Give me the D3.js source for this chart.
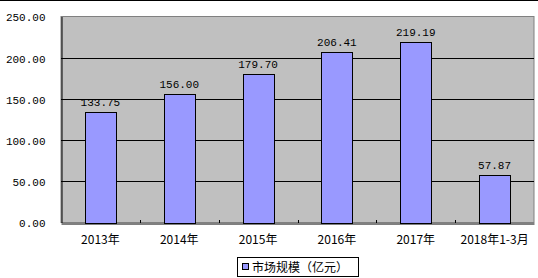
<!DOCTYPE html>
<html><head><meta charset="utf-8">
<script src="https://cdn.jsdelivr.net/npm/d3@7"></script>
<style>body{margin:0;background:#fff}svg{display:block}</style>
</head><body>
<script>
const categories = ["2013年","2014年","2015年","2016年","2017年","2018年1-3月"];
const values = [133.75,156.00,179.70,206.41,219.19,57.87];
const yTicks = [0,50,100,150,200,250];
const seriesName = "市场规模（亿元）";

const W=538,H=278;
const m={left:61,right:4,top:16.5,bottom:55.5};
const svg=d3.select("body").append("svg").attr("width",W).attr("height",H);
svg.append("rect").attr("width",W).attr("height",H).attr("fill","#fff");
svg.append("line").attr("x1",0).attr("x2",W).attr("y1",0.5).attr("y2",0.5).attr("stroke","#000");

const x=d3.scaleBand().domain(categories).range([m.left,W-m.right]).padding(0);
const y=d3.scaleLinear().domain([0,250]).range([H-m.bottom,m.top]);
const numFont="'Liberation Mono', monospace";
const cjkFont="'Noto Sans CJK SC', sans-serif";

// plot area
svg.append("rect").attr("x",m.left).attr("y",m.top).attr("width",W-m.right-m.left).attr("height",y(0)-m.top)
  .attr("fill","#C0C0C0").attr("stroke","#808080");

// gridlines
svg.append("g").selectAll("line").data(yTicks.filter(d=>d>0&&d<250)).join("line")
  .attr("x1",m.left).attr("x2",W-m.right).attr("y1",d=>Math.round(y(d))+0.5).attr("y2",d=>Math.round(y(d))+0.5)
  .attr("stroke","#000");

// y axis
const yAxis=d3.axisLeft(y).tickValues(yTicks).tickFormat(d3.format(".2f")).tickSize(0).tickPadding(16);
const gy=svg.append("g").attr("transform",`translate(${m.left+0.5},0)`).call(yAxis);
gy.select(".domain").attr("stroke","#000");
gy.selectAll("text").attr("font-family",numFont).attr("font-size","11px").attr("fill","#000").attr("dy","0.4em");

// bars
const bw=x.bandwidth()*0.395;
svg.append("g").selectAll("rect").data(values).join("rect")
  .attr("x",(d,i)=>Math.round(x(categories[i])+x.bandwidth()/2-bw/2)+0.5)
  .attr("y",d=>Math.round(y(d))+0.5)
  .attr("width",Math.round(bw))
  .attr("height",d=>Math.round(y(0))-Math.round(y(d)))
  .attr("fill","#9999FF").attr("stroke","#000");

// value labels
svg.append("g").selectAll("text").data(values).join("text")
  .attr("x",(d,i)=>x(categories[i])+x.bandwidth()/2)
  .attr("y",d=>y(d)-6)
  .attr("text-anchor","middle").attr("font-family",numFont).attr("font-size","11px").attr("fill","#000")
  .text(d=>d.toFixed(2));

// x axis
const xAxis=d3.axisBottom(x).tickSize(0).tickPadding(12);
const gx=svg.append("g").attr("transform",`translate(0,${Math.round(y(0))+0.5})`).call(xAxis);
gx.select(".domain").attr("stroke","#000");
gx.selectAll("text").attr("font-family",cjkFont).attr("font-size","12px").attr("fill","#000");
// category boundary ticks (pointing up)
svg.append("g").selectAll("line").data(categories.slice(1)).join("line")
  .attr("x1",d=>Math.round(x(d))+0.5).attr("x2",d=>Math.round(x(d))+0.5)
  .attr("y1",Math.round(y(0))).attr("y2",Math.round(y(0))-3).attr("stroke","#000");

// legend
const lg=svg.append("g");
lg.append("rect").attr("x",237.5).attr("y",257.5).attr("width",121).attr("height",19).attr("fill","#fff").attr("stroke","#000");
lg.append("rect").attr("x",242.5).attr("y",263.5).attr("width",6).attr("height",6).attr("fill","#9999FF").attr("stroke","#000");
lg.append("text").attr("x",252).attr("y",271.5).attr("font-family",cjkFont).attr("font-size","12px").attr("fill","#000").text(seriesName);
</script>
</body></html>
